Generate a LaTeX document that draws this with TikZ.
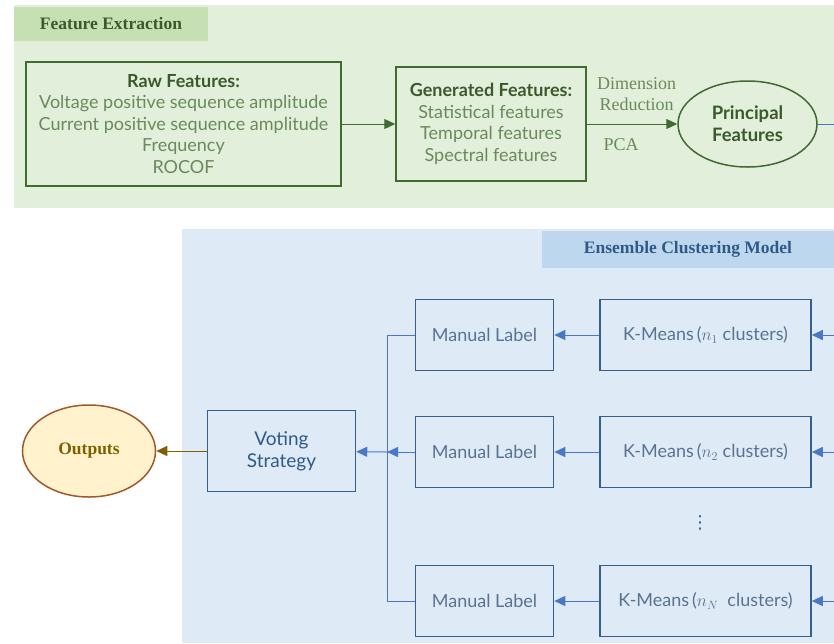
\documentclass[tikz,border=0pt]{standalone}
\usepackage{fontspec}
\setmainfont{Lato}
\newfontfamily\serifttl{Liberation Serif}
\newfontfamily\symfont{DejaVu Sans}
\usetikzlibrary{shapes.geometric, arrows.meta}

\definecolor{greenbg}{HTML}{E2EFDA}
\definecolor{greenhead}{HTML}{C6E0B4}
\definecolor{greenline}{HTML}{3F6A30}
\definecolor{greentext}{HTML}{6A8A5C}
\definecolor{greendark}{HTML}{3B5A2C}
\definecolor{bluebg}{HTML}{DEEBF7}
\definecolor{bluehead}{HTML}{BDD7EE}
\definecolor{blueframe}{HTML}{36608C}
\definecolor{blueline}{HTML}{4A78C8}
\definecolor{bluetext}{HTML}{5A7290}
\definecolor{bluedark}{HTML}{2F5A88}
\definecolor{outfill}{HTML}{FFF2CC}
\definecolor{outframe}{HTML}{A0582C}
\definecolor{outtext}{HTML}{7F6000}

\begin{document}
\begin{tikzpicture}[x=1pt, y=-1pt,
  gbox/.style={draw=greenline, line width=1.5pt, rectangle, inner sep=0pt, align=center,
    text=greentext, font=\fontsize{18}{21.5}\selectfont},
  bbox/.style={draw=blueframe, line width=1.5pt, rectangle, inner sep=0pt, align=center,
    text=bluetext, font=\fontsize{18}{21.5}\selectfont},
  headbox/.style={inner sep=0pt, font=\serifttl\bfseries\fontsize{17.5}{20}\selectfont},
  tip/.style={-{Triangle[length=11pt,width=10pt]}},
  gline/.style={draw=greenline, line width=1pt},
  bline/.style={draw=blueline, line width=1pt}]
\useasboundingbox (0,0) rectangle (834,643);
\fill[greenbg] (14,5) rectangle (834,208);
\fill[bluebg] (182,229) rectangle (834,643);
\node[headbox, fill=greenhead, text=greendark, minimum width=194pt, minimum height=34pt](fehead) at (111,24){Feature Extraction};
\node[headbox, fill=bluehead, text=bluedark, minimum width=292pt, minimum height=37pt](echead) at (688,249){Ensemble Clustering Model};
\node[gbox, minimum width=315pt, minimum height=124pt](raw) at (183.5,124){\textcolor{greendark}{\bfseries Raw Features:}\\Voltage positive sequence amplitude\\Current positive sequence amplitude\\Frequency\\ROCOF};
\node[gbox, minimum width=190pt, minimum height=114pt](gen) at (491,124){\textcolor{greendark}{\bfseries Generated Features:}\\Statistical features\\Temporal features\\Spectral features};
\node[draw=greenline, line width=1.5pt, ellipse, inner sep=0pt, minimum width=139pt, minimum height=86pt, align=center, text=greendark, font=\bfseries\fontsize{18.5}{22}\selectfont](pf) at (747.5,124){Principal\\Features};
\coordinate (pfout) at (834,124);
\node[bbox, minimum width=138pt, minimum height=71pt](ml1) at (484.5,335){Manual Label};
\node[bbox, minimum width=138pt, minimum height=71pt](ml2) at (484.5,452){Manual Label};
\node[bbox, minimum width=138pt, minimum height=71pt](ml3) at (484.5,601){Manual Label};
\node[bbox, minimum width=211pt, minimum height=71pt](km1) at (705.5,335){K-Means\,($n_1$ clusters)};
\node[bbox, minimum width=211pt, minimum height=71pt](km2) at (705.5,452){K-Means\,($n_2$ clusters)};
\node[bbox, minimum width=211pt, minimum height=71pt](km3) at (705.5,601){K-Means\,($n_N$\ \ clusters)};
\node[text=blueframe, font=\symfont\fontsize{18}{18}\selectfont](dots) at (700,523){⋮};
\node[bbox, text=bluedark, minimum width=148pt, minimum height=81pt, font=\fontsize{19}{22}\selectfont](vote) at (281.5,451){Voting\\Strategy};
\node[draw=outframe, fill=outfill, line width=1.5pt, ellipse, inner sep=0pt, minimum width=133pt, minimum height=92pt, text=outtext, font=\serifttl\bfseries\fontsize{17.5}{20}\selectfont](out) at (89,451){Outputs};
\coordinate (in1) at (834,335);
\coordinate (in2) at (834,452);
\coordinate (in3) at (834,601);
\coordinate (bus) at (387,452);
\draw[gline, tip, greenline] (raw) -- (gen);
\draw[gline, tip, greenline] (gen) -- (pf) node[above, pos=.55, yshift=9pt, align=center, text=greentext, font=\serifttl\fontsize{18}{21}\selectfont]{Dimension\\Reduction} node[below, pos=.38, yshift=-11pt, text=greentext, font=\serifttl\fontsize{18}{21}\selectfont]{PCA};
\draw[bline] (pf) -- (pfout);
\draw[bline, tip, blueline] (in1) -- (km1);
\draw[bline, tip, blueline] (in2) -- (km2);
\draw[bline, tip, blueline] (in3) -- (km3);
\draw[bline, tip, blueline] (km1) -- (ml1);
\draw[bline, tip, blueline] (km2) -- (ml2);
\draw[bline, tip, blueline] (km3) -- (ml3);
\draw[bline] (ml1.west) -| (bus);
\draw[bline] (ml3.west) -| (bus);
\draw[bline, tip, blueline] (ml2) -- (bus);
\draw[bline, tip, blueline] (bus) -- (vote);
\draw[draw=outtext!80!white, line width=1pt, tip, outtext] (vote) -- (out);
\end{tikzpicture}
\end{document}
